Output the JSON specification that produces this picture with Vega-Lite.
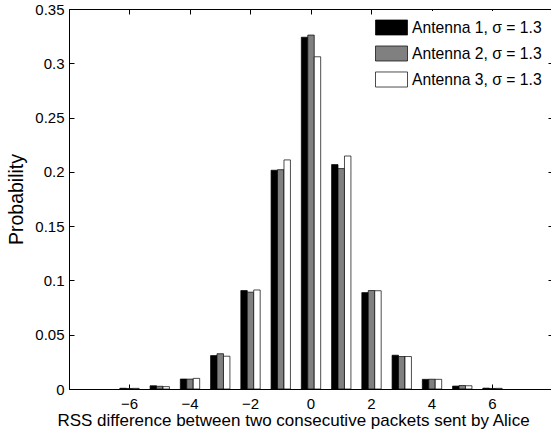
{
  "$schema": "https://vega.github.io/schema/vega-lite/v6.json",
  "width": 484,
  "height": 380,
  "autosize": "none",
  "padding": {"left": 69, "top": 9, "right": 0, "bottom": 43},
  "background": "white",
  "config": {
    "font": "Liberation Sans",
    "view": {"stroke": "black", "strokeWidth": 1},
    "axis": {"grid": false, "domainColor": "black", "tickColor": "black", "labelColor": "black", "titleColor": "black", "labelFont": "Liberation Sans", "titleFont": "Liberation Sans", "titleFontWeight": "normal", "labelFontSize": 15, "tickSize": -5, "domainWidth": 1, "tickWidth": 1}
  },
  "data": {"values": [
    {"d": -6, "antenna": "Antenna 1, σ = 1.3", "p": 0.0007},
    {"d": -6, "antenna": "Antenna 2, σ = 1.3", "p": 0.0005},
    {"d": -6, "antenna": "Antenna 3, σ = 1.3", "p": 0.0006},
    {"d": -5, "antenna": "Antenna 1, σ = 1.3", "p": 0.003},
    {"d": -5, "antenna": "Antenna 2, σ = 1.3", "p": 0.0025},
    {"d": -5, "antenna": "Antenna 3, σ = 1.3", "p": 0.0022},
    {"d": -4, "antenna": "Antenna 1, σ = 1.3", "p": 0.0092},
    {"d": -4, "antenna": "Antenna 2, σ = 1.3", "p": 0.0091},
    {"d": -4, "antenna": "Antenna 3, σ = 1.3", "p": 0.0098},
    {"d": -3, "antenna": "Antenna 1, σ = 1.3", "p": 0.0308},
    {"d": -3, "antenna": "Antenna 2, σ = 1.3", "p": 0.0325},
    {"d": -3, "antenna": "Antenna 3, σ = 1.3", "p": 0.0302},
    {"d": -2, "antenna": "Antenna 1, σ = 1.3", "p": 0.0907},
    {"d": -2, "antenna": "Antenna 2, σ = 1.3", "p": 0.0892},
    {"d": -2, "antenna": "Antenna 3, σ = 1.3", "p": 0.0912},
    {"d": -1, "antenna": "Antenna 1, σ = 1.3", "p": 0.2015},
    {"d": -1, "antenna": "Antenna 2, σ = 1.3", "p": 0.202},
    {"d": -1, "antenna": "Antenna 3, σ = 1.3", "p": 0.211},
    {"d": 0, "antenna": "Antenna 1, σ = 1.3", "p": 0.324},
    {"d": 0, "antenna": "Antenna 2, σ = 1.3", "p": 0.326},
    {"d": 0, "antenna": "Antenna 3, σ = 1.3", "p": 0.306},
    {"d": 1, "antenna": "Antenna 1, σ = 1.3", "p": 0.2067},
    {"d": 1, "antenna": "Antenna 2, σ = 1.3", "p": 0.203},
    {"d": 1, "antenna": "Antenna 3, σ = 1.3", "p": 0.2146},
    {"d": 2, "antenna": "Antenna 1, σ = 1.3", "p": 0.0888},
    {"d": 2, "antenna": "Antenna 2, σ = 1.3", "p": 0.0907},
    {"d": 2, "antenna": "Antenna 3, σ = 1.3", "p": 0.0905},
    {"d": 3, "antenna": "Antenna 1, σ = 1.3", "p": 0.0311},
    {"d": 3, "antenna": "Antenna 2, σ = 1.3", "p": 0.0299},
    {"d": 3, "antenna": "Antenna 3, σ = 1.3", "p": 0.0299},
    {"d": 4, "antenna": "Antenna 1, σ = 1.3", "p": 0.0089},
    {"d": 4, "antenna": "Antenna 2, σ = 1.3", "p": 0.009},
    {"d": 4, "antenna": "Antenna 3, σ = 1.3", "p": 0.0089},
    {"d": 5, "antenna": "Antenna 1, σ = 1.3", "p": 0.0027},
    {"d": 5, "antenna": "Antenna 2, σ = 1.3", "p": 0.0032},
    {"d": 5, "antenna": "Antenna 3, σ = 1.3", "p": 0.003},
    {"d": 6, "antenna": "Antenna 1, σ = 1.3", "p": 0.0008},
    {"d": 6, "antenna": "Antenna 2, σ = 1.3", "p": 0.0005},
    {"d": 6, "antenna": "Antenna 3, σ = 1.3", "p": 0.0006}
  ]},
  "layer": [
    {
      "mark": {"type": "bar", "stroke": "black", "strokeWidth": 0.7},
      "encoding": {
        "x": {
          "field": "d", "type": "ordinal",
          "scale": {"domain": [-7, -6, -5, -4, -3, -2, -1, 0, 1, 2, 3, 4, 5, 6, 7], "paddingInner": 0.36, "paddingOuter": 0.68},
          "axis": {"orient": "bottom", "values": [-6, -4, -2, 0, 2, 4, 6], "labelAngle": 0, "labelPadding": 12,
                   "labelExpr": "datum.value < 0 ? '\u2212' + abs(datum.value) : datum.label",
                   "title": "RSS difference between two consecutive packets sent by Alice", "titleFontSize": 17, "titlePadding": 1, "titleX": 224}
        },
        "xOffset": {"field": "antenna", "type": "nominal"},
        "y": {
          "field": "p", "type": "quantitative",
          "scale": {"domain": [0, 0.35], "nice": false},
          "axis": {"orient": "left", "values": [0, 0.05, 0.1, 0.15, 0.2, 0.25, 0.3, 0.35], "format": "~g", "labelPadding": 10,
                   "title": "Probability", "titleFontSize": 19.5, "titlePadding": 8}
        },
        "fill": {
          "field": "antenna", "type": "nominal",
          "scale": {"range": ["#000000", "#808080", "#ffffff"]},
          "legend": {
            "orient": "none", "legendX": 306, "legendY": 2, "title": null,
            "symbolType": "M-1,-0.47L1,-0.47L1,0.47L-1,0.47Z", "symbolSize": 1024,
            "symbolStrokeColor": "black", "symbolStrokeWidth": 0.7,
            "labelFontSize": 15.7, "labelColor": "black", "labelFont": "Liberation Sans", "labelOffset": 4,
            "rowPadding": 0, "fillColor": "white"
          }
        }
      }
    },
    {
      "mark": {"type": "point", "opacity": 0},
      "encoding": {
        "x": {"field": "d", "type": "ordinal", "axis": {"orient": "top", "values": [-6, -4, -2, 0, 2, 4, 6], "labels": false, "title": null, "domain": false}},
        "y": {"field": "p", "type": "quantitative", "axis": {"orient": "right", "values": [0, 0.05, 0.1, 0.15, 0.2, 0.25, 0.3, 0.35], "labels": false, "title": null, "domain": false}}
      }
    }
  ],
  "resolve": {"axis": {"x": "independent", "y": "independent"}}
}
